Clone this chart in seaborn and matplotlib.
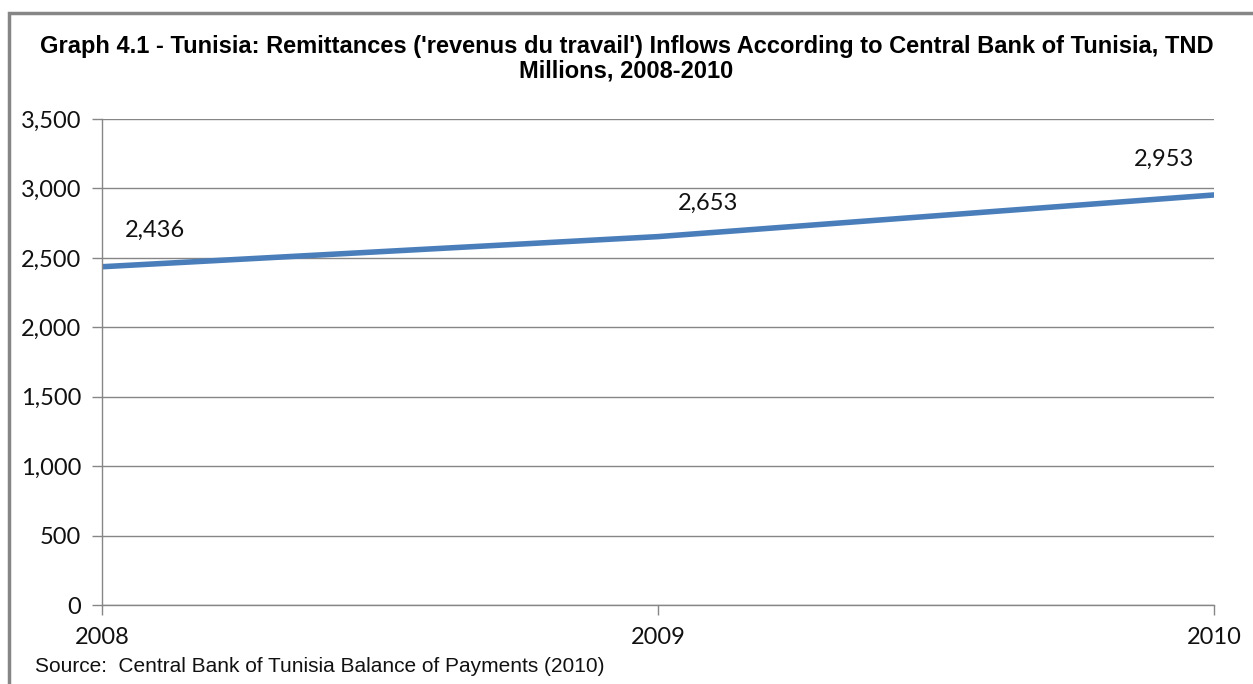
import matplotlib
matplotlib.use("Agg")
import matplotlib.pyplot as plt
import seaborn as sns
import pandas as pd
from matplotlib.patches import Rectangle
from matplotlib.ticker import FuncFormatter, MultipleLocator

years = [2008, 2009, 2010]
remittances = [2436, 2653, 2953]
label_offsets = [(53, 36), (50, 33), (-50, 36)]

title = ("Graph 4.1 - Tunisia: Remittances ('revenus du travail') Inflows According to Central Bank of Tunisia, TND\n"
         "Millions, 2008-2010")
source = "Source:  Central Bank of Tunisia Balance of Payments (2010)"

df = pd.DataFrame({"year": years, "value": remittances})

sns.set_theme(style="white")
plt.rcParams["font.family"] = ["Lato", "DejaVu Sans"]

fig = plt.figure(figsize=(12.53, 6.84), dpi=100)
ax = fig.add_axes([102 / 1253, 1 - 605 / 684, (1214 - 102) / 1253, (605 - 119) / 684])

sns.lineplot(data=df, x="year", y="value", ax=ax, color="#4A7EBB", linewidth=4,
             solid_capstyle="round")

ax.set_xlim(2008, 2010)
ax.set_ylim(0, 3500)
ax.yaxis.set_major_locator(MultipleLocator(500))
ax.set_xticks(years)
ax.yaxis.set_major_formatter(FuncFormatter(lambda v, p: f"{int(v):,}"))
ax.xaxis.set_major_formatter(FuncFormatter(lambda v, p: f"{int(v)}"))
ax.grid(axis="y", color="#868686", linewidth=1)
ax.grid(axis="x", visible=False)
ax.set_xlabel("")
ax.set_ylabel("")

for side in ["top", "right"]:
    ax.spines[side].set_visible(False)
for side in ["left", "bottom"]:
    ax.spines[side].set_color("#868686")
    ax.spines[side].set_linewidth(1)

ax.tick_params(axis="y", which="major", direction="out", length=7, width=1,
               color="#868686", labelsize=17, pad=8, left=True, labelcolor="#111111")
ax.tick_params(axis="x", which="major", direction="out", length=7, width=1,
               color="#868686", labelsize=17, pad=9, bottom=True, labelcolor="#111111")

for x, y, (dx, dy) in zip(years, remittances, label_offsets):
    ax.annotate(f"{y:,}", (x, y), xytext=(dx, dy), textcoords="offset pixels",
                ha="center", va="center", fontsize=17, color="#111111",
                annotation_clip=False)

fig.text(0.5, 1 - 59 / 684, title, ha="center", va="center", fontsize=17,
         fontweight="bold", family="Liberation Sans", linespacing=1.1, color="black")
fig.text(35 / 1253, 1 - 667 / 684, source, ha="left", va="center", fontsize=15,
         family="Liberation Sans", color="#111111")

fig.patches.append(Rectangle((9 / 1253, -0.05), 1.1, 1 - 13 / 684 + 0.05,
                             transform=fig.transFigure, fill=False,
                             edgecolor="#868686", linewidth=2.5))

fig.savefig("out.png", dpi=100, facecolor="white")
